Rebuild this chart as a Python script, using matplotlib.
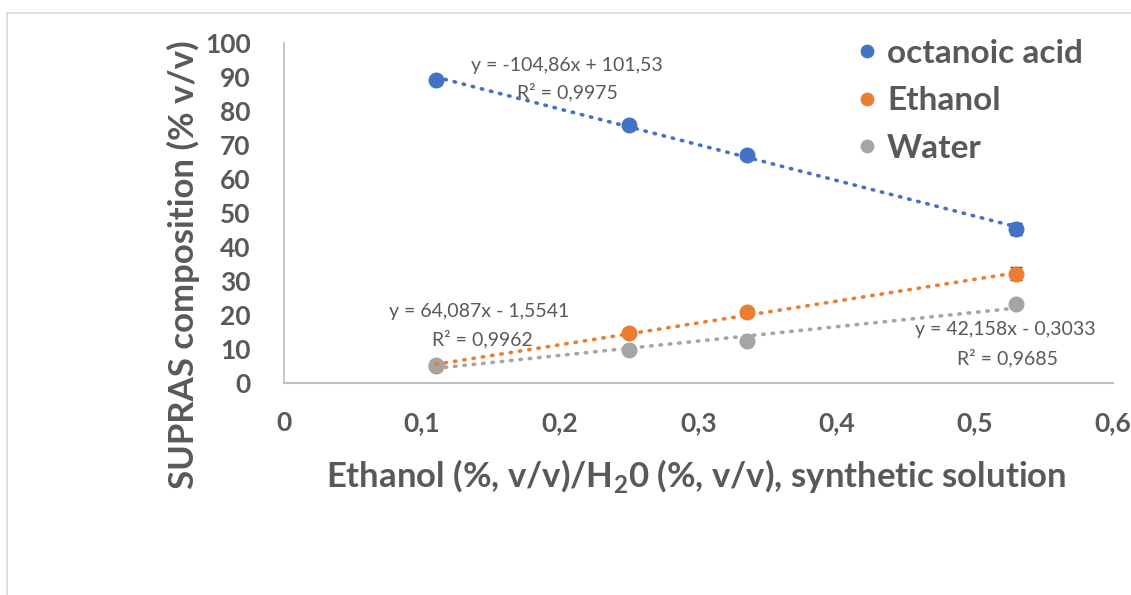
import matplotlib
matplotlib.use("Agg")
import matplotlib.pyplot as plt
import numpy as np
from matplotlib.patches import Rectangle

# Data
ratio = [0.11, 0.25, 0.335, 0.53]
octanoic = [89.2, 76.0, 67.0, 45.3]
ethanol = [5.0, 14.8, 21.0, 32.2]
water = [5.4, 9.8, 12.4, 23.2]
octanoic_err = [0, 0, 0, 1.8]
ethanol_err = [0, 0, 0, 1.8]

# Trendline coefficients (slope, intercept) and labels
fits = {
    "octanoic": (-104.86, 101.53, "y = -104,86x + 101,53", "R² = 0,9975"),
    "ethanol": (64.087, -1.5541, "y = 64,087x - 1,5541", "R² = 0,9962"),
    "water": (42.158, -0.3033, "y = 42,158x - 0,3033", "R² = 0,9685"),
}

BLUE = "#4472C4"
ORANGE = "#ED7D31"
GRAY = "#A5A5A5"
TEXT = "#595959"
BOLD = "bold"

plt.rcParams["font.family"] = ["Lato", "DejaVu Sans"]

fig = plt.figure(figsize=(11.31, 5.95), dpi=100)
fig.patches.append(Rectangle((7 / 1131, -0.1), 1.2, 1.1 - 13 / 595,
                             transform=fig.transFigure, fill=False,
                             edgecolor="#D9D9D9", linewidth=1.2))
ax = fig.add_axes([0.251, 0.3563, 0.733, 0.5714])

series = [
    ("octanoic acid", octanoic, octanoic_err, BLUE, "octanoic"),
    ("Ethanol", ethanol, ethanol_err, ORANGE, "ethanol"),
    ("Water", water, None, GRAY, "water"),
]

x = np.array(ratio)
xs = np.array([x.min(), x.max()])
for name, vals, err, color, key in series:
    if err is not None:
        ax.errorbar(ratio, vals, yerr=err, fmt="none", ecolor="#404040",
                    elinewidth=1, capsize=4, zorder=2)
    ax.plot(ratio, vals, "o", color=color, markersize=10.5, label=name, zorder=3)
    m, b = fits[key][0], fits[key][1]
    ax.plot(xs, m * xs + b, color=color, linewidth=2.6,
            linestyle=(0, (0.4, 2.2)), dash_capstyle="round", zorder=4)

# Trendline equations
eq_kw = dict(ha="center", va="center", fontsize=14, color=TEXT)
ax.text(0.205, 93.5, fits["octanoic"][2], **eq_kw)
ax.text(0.205, 85.6, fits["octanoic"][3], **eq_kw)
ax.text(0.141, 20.9, fits["ethanol"][2], **eq_kw)
ax.text(0.144, 12.9, fits["ethanol"][3], **eq_kw)
ax.text(0.522, 15.6, fits["water"][2], **eq_kw)
ax.text(0.524, 7.4, fits["water"][3], **eq_kw)

ax.set_xlim(0, 0.6)
ax.set_ylim(0, 100)
ax.set_xticks(np.arange(0, 0.61, 0.1))
ax.set_xticklabels(["0", "0,1", "0,2", "0,3", "0,4", "0,5", "0,6"])
ax.set_yticks(np.arange(0, 101, 10))
ax.tick_params(length=0, labelsize=19, labelcolor=TEXT)
ax.tick_params(axis="y", pad=24)
ax.tick_params(axis="x", pad=20)
for lbl in ax.get_xticklabels() + ax.get_yticklabels():
    lbl.set_fontweight(BOLD)

for s in ["top", "right"]:
    ax.spines[s].set_visible(False)
ax.spines["left"].set_color("#BFBFBF")
ax.spines["bottom"].set_color("#BFBFBF")
ax.spines["left"].set_linewidth(1.2)
ax.spines["bottom"].set_linewidth(1.5)

ax.set_ylabel("SUPRAS composition (% v/v)", fontsize=25, fontweight=BOLD,
              color=TEXT)
ax.yaxis.set_label_coords(-0.101, 0.347)
ax.set_xlabel("Ethanol (%, v/v)/H$_\\mathregular{2}$0 (%, v/v), synthetic solution",
              fontsize=25, fontweight=BOLD, color=TEXT)
ax.xaxis.set_label_coords(0.498, -0.217)

leg = ax.legend(loc="upper right", bbox_to_anchor=(1.0, 1.1), frameon=False,
                fontsize=24, markerscale=0.85, handletextpad=0.1,
                labelspacing=0.55, handlelength=1.0)
for t in leg.get_texts():
    t.set_color(TEXT)
    t.set_fontweight(BOLD)

fig.savefig("out.png", dpi=100)
